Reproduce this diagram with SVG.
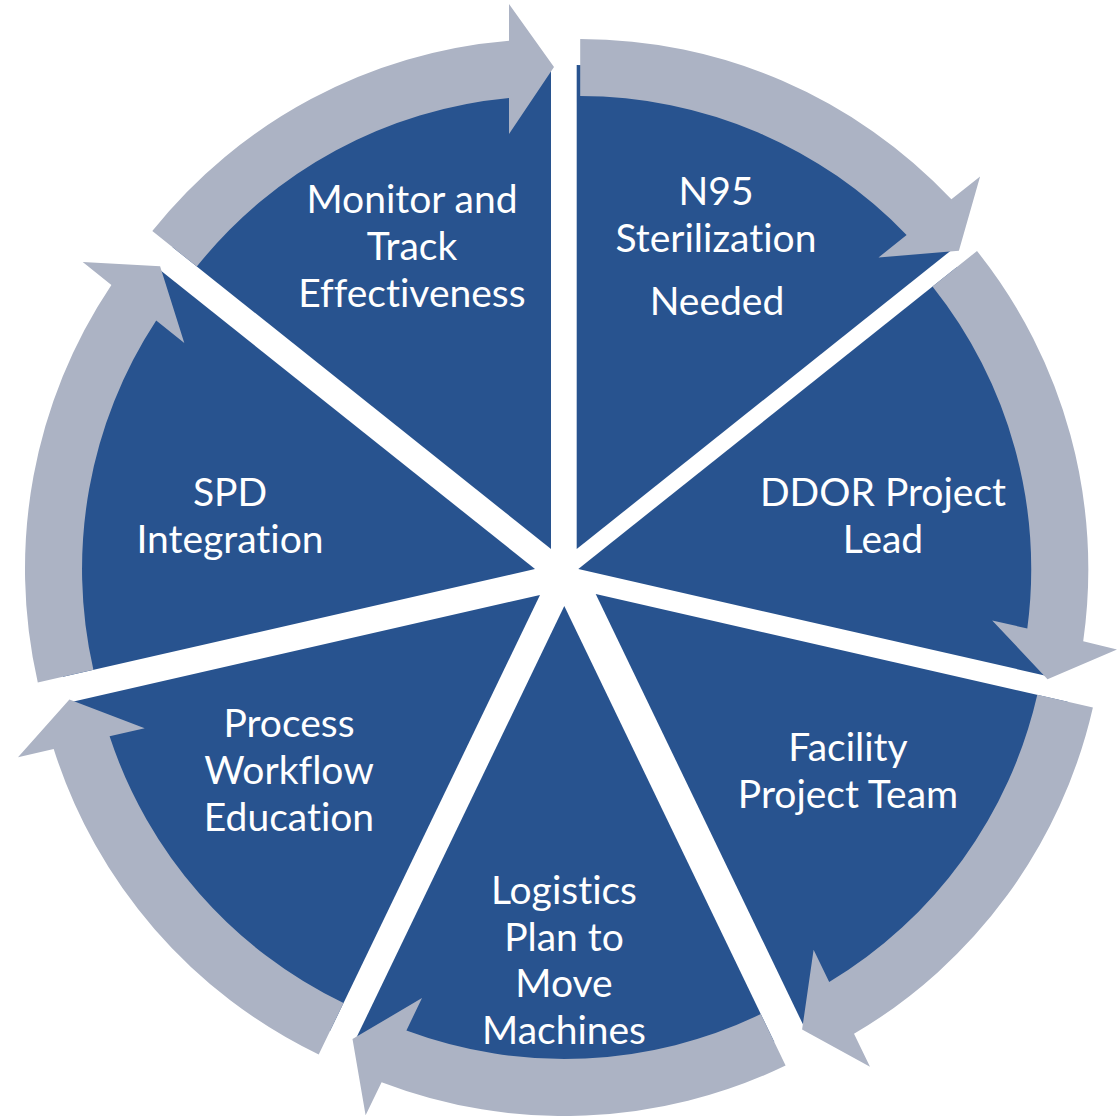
<svg xmlns="http://www.w3.org/2000/svg" width="1117" height="1116" viewBox="0 0 1117 1116">
<style>
.wedge{fill:#28538F}
.arrow{fill:#ACB3C4}
.lbl{font-family:Lato,"Open Sans","Liberation Sans",sans-serif;font-size:39px;fill:#FFFFFF;text-anchor:middle;font-variant-ligatures:none;font-feature-settings:"liga" 0}
</style>
<rect width="1117" height="1116" fill="#FFFFFF"/>
<g id="node-monitor">
<path class="wedge" d="M551,549 L172.6,247.2 A484,484 0 0 1 551,65 Z"/>
<text class="lbl" x="412" y="213">Monitor and</text>
<text class="lbl" x="412" y="260">Track</text>
<text class="lbl" x="412" y="307">Effectiveness</text>
</g>
<g id="node-n95">
<path class="wedge" d="M576.7,549 L576.7,65 A484,484 0 0 1 955.1,247.2 Z"/>
<text class="lbl" x="716" y="205">N95</text>
<text class="lbl" x="716" y="252">Sterilization</text>
<text class="lbl" x="717" y="315">Needed</text>
</g>
<g id="node-ddor">
<path class="wedge" d="M578.3,569 L956.7,267.2 A484,484 0 0 1 1050.2,676.7 Z"/>
<text class="lbl" x="883" y="506">DDOR Project</text>
<text class="lbl" x="883" y="553">Lead</text>
</g>
<g id="node-facility">
<path class="wedge" d="M595.7,594 L1067.6,701.7 A484,484 0 0 1 805.7,1030.1 Z"/>
<text class="lbl" x="848" y="761">Facility</text>
<text class="lbl" x="848" y="808">Project Team</text>
</g>
<g id="node-logistics">
<path class="wedge" d="M564.3,606 L774.3,1042.1 A484,484 0 0 1 354.3,1042.1 Z"/>
<text class="lbl" x="564" y="904">Logistics</text>
<text class="lbl" x="564" y="951">Plan to</text>
<text class="lbl" x="564" y="997">Move</text>
<text class="lbl" x="564" y="1044">Machines</text>
</g>
<g id="node-process">
<path class="wedge" d="M540,595 L330,1031.1 A484,484 0 0 1 68.1,702.7 Z"/>
<text class="lbl" x="289" y="737">Process</text>
<text class="lbl" x="289" y="784">Workflow</text>
<text class="lbl" x="289" y="831">Education</text>
</g>
<g id="node-spd">
<path class="wedge" d="M535,569 L63.1,676.7 A484,484 0 0 1 156.6,267.2 Z"/>
<text class="lbl" x="230" y="506">SPD</text>
<text class="lbl" x="230" y="553">Integration</text>
</g>
<g id="connectors">
<path class="arrow" d="M152.3,231 A510,510 0 0 1 509,40.7 L509,4 L554,67 L509,134 L509,98 A453,453 0 0 0 196.8,266.6 Z"/>
<path class="arrow" d="M580.2,39 A510,510 0 0 1 951.4,199.3 L980.1,176.4 L958.9,250.8 L878.5,257.5 L906.6,235 A453,453 0 0 0 580.2,96 Z"/>
<path class="arrow" d="M977,251 A510,510 0 0 1 1083.2,641.2 L1117,649.4 L1047.5,679.2 L992.2,620.4 L1027.3,628.5 A453,453 0 0 0 932.5,286.6 Z"/>
<path class="arrow" d="M1092.9,707.5 A510,510 0 0 1 854,1033.8 L870,1066.8 L802.1,1029.6 L813.6,949.7 L829.2,982.1 A453,453 0 0 0 1037.3,694.8 Z"/>
<path class="arrow" d="M785.6,1065.5 A510,510 0 0 1 381.6,1082.2 L365.6,1115.2 L352.5,1039 L422,998.1 L406.4,1030.5 A453,453 0 0 0 760.8,1014.1 Z"/>
<path class="arrow" d="M318.7,1054.5 A510,510 0 0 1 53.7,749 L18,757.2 L69.4,699.4 L144.7,728.2 L109.6,736.3 A453,453 0 0 0 343.5,1003.1 Z"/>
<path class="arrow" d="M37.8,682.5 A510,510 0 0 1 111.4,284.9 L82.7,262 L160.1,266.2 L184.3,343.1 L156.2,320.6 A453,453 0 0 0 93.4,669.8 Z"/>
</g>
</svg>
